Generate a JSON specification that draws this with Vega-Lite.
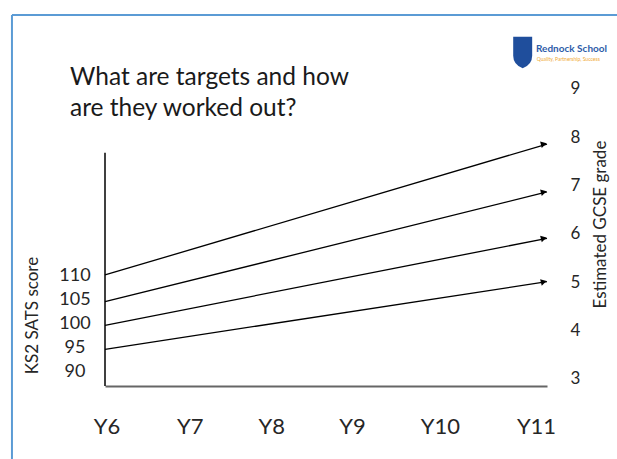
{
  "$schema": "https://vega.github.io/schema/vega-lite/v6.json",
  "width": 442,
  "height": 306,
  "autosize": {"type": "none"},
  "padding": {"left": 105, "top": 80, "right": 70, "bottom": 73},
  "background": "white",
  "config": {
    "view": {"stroke": null},
    "font": "Lato",
    "axis": {"grid": false, "ticks": false, "tickSize": 0, "labelColor": "#262626", "titleColor": "#262626", "labelFont": "Lato", "titleFont": "Lato", "titleFontWeight": "normal"},
    "axisRight": {"labelFontSize": 17},
    "axisLeft": {"labelFontSize": 18}
  },
  "title": {
    "text": ["What are targets and how", "are they worked out?"],
    "anchor": "start",
    "frame": "group",
    "dx": -35,
    "offset": 0,
    "dy": 131,
    "baseline": "bottom",
    "fontSize": 24.5,
    "fontWeight": "normal",
    "font": "Lato",
    "color": "#1a1a1a",
    "lineHeight": 31
  },
  "datasets": {
    "targets": [
      {"ks2": 110, "start": 5.149, "end": 7.855},
      {"ks2": 105, "start": 4.597, "end": 6.864},
      {"ks2": 100, "start": 4.110, "end": 5.907},
      {"ks2": 95, "start": 3.614, "end": 5.010}
    ],
    "school": [
      {"name": "Rednock School", "motto": "Quality, Partnership, Success"}
    ]
  },
  "resolve": {"scale": {"y": "independent"}, "axis": {"y": "independent"}},
  "layer": [
    {
      "data": {"values": [{}]},
      "mark": {"type": "rule", "color": "#000000", "strokeWidth": 1.5},
      "encoding": {
        "x": {
          "datum": -0.017,
          "type": "quantitative",
          "scale": {"domain": [-0.017, 5.128], "nice": false, "zero": false},
          "axis": {
            "orient": "bottom",
            "values": [0, 0.97, 1.917, 2.858, 3.882, 5.0],
            "labelExpr": "'Y' + (6 + round(datum.value))",
            "labelFontSize": 22,
            "labelPadding": 30,
            "labelFlush": false,
            "labelOverlap": false,
            "labelBound": false,
            "domainColor": "#666666",
            "domainWidth": 2,
            "title": null
          }
        },
        "y": {
          "datum": 87.07,
          "type": "quantitative",
          "scale": {"domain": [87.07, 150.29], "nice": false, "zero": false},
          "axis": {
            "orient": "left",
            "values": [90, 95, 100, 105, 110],
            "domain": false,
            "labelAlign": "center",
            "labelBaseline": "middle",
            "labelPadding": 30.5,
            "labelFontSize": 18,
            "title": "KS2 SATS score",
            "titleFontSize": 17,
            "titleAngle": 270,
            "titleX": -73,
            "titleY": 235,
            "titleAlign": "center",
            "titleBaseline": "middle"
          }
        },
        "y2": {"datum": 135.27}
      }
    },
    {
      "layer": [
        {
          "data": {"name": "targets"},
          "mark": {"type": "rule", "color": "#000000", "strokeWidth": 1.3},
          "encoding": {
            "x": {"datum": -0.017, "type": "quantitative"},
            "x2": {"datum": 5.128},
            "y": {
              "field": "start",
              "type": "quantitative",
              "scale": {"domain": [2.855, 9.178], "nice": false, "zero": false},
              "axis": {
                "orient": "right",
                "values": [3, 4, 5, 6, 7, 8, 9],
                "domain": false,
                "labelAlign": "center",
                "labelBaseline": "middle",
                "labelPadding": 28,
                "labelFontSize": 17,
                "title": "Estimated GCSE grade",
                "titleFontSize": 17,
                "titleAngle": 270,
                "titleX": 53,
                "titleY": 144,
                "titleAlign": "center",
                "titleBaseline": "middle"
              }
            },
            "y2": {"field": "end"}
          }
        },
        {
          "data": {"name": "targets"},
          "mark": {"type": "point", "shape": "triangle-right", "filled": true, "color": "#000000", "opacity": 1, "size": 45, "angle": 346},
          "encoding": {
            "x": {"datum": 5.09, "type": "quantitative"},
            "y": {"field": "end", "type": "quantitative"}
          }
        },
        {
          "data": {"values": [{}]},
          "mark": {"type": "rule", "color": "#5B9BD5", "strokeWidth": 2},
          "encoding": {
            "x": {"datum": -1.1, "type": "quantitative"},
            "y": {"datum": 1.3, "type": "quantitative"},
            "y2": {"datum": 10.52}
          }
        },
        {
          "data": {"values": [{}]},
          "mark": {"type": "rule", "color": "#5B9BD5", "strokeWidth": 2},
          "encoding": {
            "x": {"datum": -1.1, "type": "quantitative"},
            "x2": {"datum": 6.0},
            "y": {"datum": 10.52, "type": "quantitative"}
          }
        },
        {
          "data": {"name": "school"},
          "mark": {"type": "point", "shape": "M-0.6,-1 L0.6,-1 L0.6,0.2 Q0.6,0.75 0,1 Q-0.6,0.75 -0.6,0.2 Z", "filled": true, "color": "#1F4E9C", "opacity": 1, "size": 1000},
          "encoding": {
            "x": {"datum": 4.845, "type": "quantitative"},
            "y": {"datum": 9.746, "type": "quantitative"}
          }
        },
        {
          "data": {"name": "school"},
          "mark": {"type": "text", "align": "left", "baseline": "middle", "fontSize": 10, "font": "Lato", "fontWeight": "bold", "color": "#2E5CA8"},
          "encoding": {
            "x": {"datum": 5.0, "type": "quantitative"},
            "y": {"datum": 9.826, "type": "quantitative"},
            "text": {"field": "name"}
          }
        },
        {
          "data": {"name": "school"},
          "mark": {"type": "text", "align": "left", "baseline": "middle", "fontSize": 5, "font": "Lato", "color": "#F0A830"},
          "encoding": {
            "x": {"datum": 5.01, "type": "quantitative"},
            "y": {"datum": 9.612, "type": "quantitative"},
            "text": {"field": "motto"}
          }
        }
      ]
    }
  ]
}
